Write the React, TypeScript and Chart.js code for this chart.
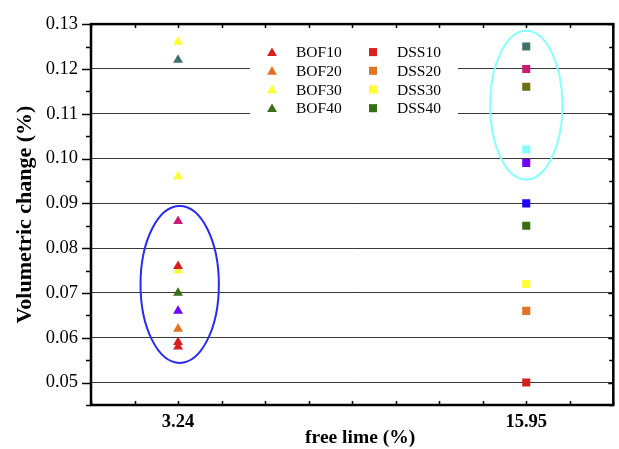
import React, { useEffect, useRef } from "react";
import { Chart, registerables } from "chart.js";

Chart.register(...registerables);

// ---- data ----
const freeLime = [3.24, 15.95];
const xTickLabels = ["3.24", "15.95"];
const xTitle = "free lime (%)";
const yTitle = "Volumetric change (%)";

// BOF series (free lime 3.24 %)
const bof10 = [0.076, 0.059, 0.058];
const bof20 = [0.062];
const bof30 = [0.126, 0.096, 0.075];
const bof40 = [0.07];
const bofTeal = [0.122];
const bofMagenta = [0.086];
const bofViolet = [0.066];

// DSS series (free lime 15.95 %)
const dss10 = [0.05];
const dss20 = [0.066];
const dss30 = [0.072];
const dss40 = [0.085];
const dssTeal = [0.125];
const dssMagenta = [0.12];
const dssOlive = [0.116];
const dssCyan = [0.102];
const dssViolet = [0.099];
const dssBlue = [0.09];

const yMajorTicks = [0.05, 0.06, 0.07, 0.08, 0.09, 0.1, 0.11, 0.12, 0.13];

// ---- styling ----
const SERIF = "'Liberation Serif', 'Times New Roman', serif";
const COL = {
  red: "#d61f1f",
  orange: "#e07424",
  yellow: "#ffff33",
  green: "#3a6e14",
  teal: "#3f6f6f",
  magenta: "#cc1a77",
  violet: "#7000ff",
  cyan: "#80ffff",
  blue: "#1e00ff",
  olive: "#6e6e14",
};

const X_STEP = (freeLime[1] - freeLime[0]) / 8;
const X_MIN = freeLime[0] - 2 * X_STEP;
const X_MAX = freeLime[1] + 2 * X_STEP;
const Y_MIN = 0.045;
const Y_MAX = 0.13;

const groupEllipses = [
  { x: freeLime[0] + 0.06, yCenter: 0.0719, xRadius: 1.43, yRadius: 0.0175, color: "#2a2af0" },
  { x: freeLime[1], yCenter: 0.1119, xRadius: 1.32, yRadius: 0.0166, color: "#88ffff" },
];

function mk(label: string, xv: number, vals: number[], color: string, style: string, inLegend: boolean) {
  return {
    label,
    data: vals.map((v) => ({ x: xv, y: v })),
    pointStyle: style,
    backgroundColor: color,
    borderColor: color,
    borderWidth: 0,
    pointRadius: 5.7,
    pointHoverRadius: 5.7,
    showLine: false,
    inLegend,
  } as any;
}

const ellipsePlugin = {
  id: "groupEllipses",
  afterDatasetsDraw(chart: any) {
    const { ctx, scales } = chart;
    const xs = scales.x;
    const ys = scales.y;
    ctx.save();
    for (const e of groupEllipses) {
      const cx = xs.getPixelForValue(e.x);
      const cy = ys.getPixelForValue(e.yCenter);
      const rx = Math.abs(xs.getPixelForValue(e.x + e.xRadius) - cx);
      const ry = Math.abs(ys.getPixelForValue(e.yCenter + e.yRadius) - cy);
      ctx.beginPath();
      ctx.ellipse(cx, cy, rx, ry, 0, 0, Math.PI * 2);
      ctx.strokeStyle = e.color;
      ctx.lineWidth = 2;
      ctx.stroke();
    }
    ctx.restore();
  },
};

function drawMarker(ctx: CanvasRenderingContext2D, style: string, x: number, y: number, r: number, color: string) {
  ctx.fillStyle = color;
  ctx.beginPath();
  if (style === "triangle") {
    let rad = 0;
    ctx.moveTo(x + Math.sin(rad) * r, y - Math.cos(rad) * r);
    rad += (2 * Math.PI) / 3;
    ctx.lineTo(x + Math.sin(rad) * r, y - Math.cos(rad) * r);
    rad += (2 * Math.PI) / 3;
    ctx.lineTo(x + Math.sin(rad) * r, y - Math.cos(rad) * r);
    ctx.closePath();
  } else {
    const s = Math.SQRT1_2 * r;
    ctx.rect(x - s, y - s, 2 * s, 2 * s);
  }
  ctx.fill();
}

const legendPlugin = {
  id: "insideLegend",
  afterDatasetsDraw(chart: any) {
    const { ctx, chartArea } = chart;
    const x0 = chartArea.left + 159;
    const y0 = chartArea.top + 16;
    ctx.save();
    ctx.fillStyle = "#ffffff";
    ctx.fillRect(x0, y0, 208, 80);
    const items = chart.data.datasets.filter((d: any) => d.inLegend);
    ctx.font = `15.5px ${SERIF}`;
    ctx.textBaseline = "middle";
    ctx.textAlign = "left";
    items.forEach((d: any, i: number) => {
      const col = Math.floor(i / 4);
      const row = i % 4;
      const my = y0 + 12 + row * 18.7;
      const mx = x0 + 22 + col * 101;
      drawMarker(ctx, d.pointStyle, mx, my + (d.pointStyle === "triangle" ? 1 : 0), 5.7, d.backgroundColor);
      ctx.fillStyle = "#000";
      ctx.fillText(d.label, x0 + 46 + col * 101, my + 1);
    });
    ctx.restore();
  },
};

const framePlugin = {
  id: "frameTicks",
  afterDraw(chart: any) {
    const { ctx, chartArea: a, scales } = chart;
    const ys = scales.y;
    const xs = scales.x;
    ctx.save();
    ctx.strokeStyle = "#000";
    ctx.lineWidth = 1.5;
    ctx.beginPath();
    for (let k = 0; k <= Math.round((Y_MAX - Y_MIN) / 0.005); k++) {
      const v = Y_MIN + k * 0.005;
      const py = Math.round(ys.getPixelForValue(v)) + 0.5;
      const major = Math.abs(v * 100 - Math.round(v * 100)) < 1e-6;
      const outL = major ? 9 : 5;
      const inR = major ? 5 : 4;
      ctx.moveTo(a.left - outL, py);
      ctx.lineTo(a.left, py);
      ctx.moveTo(a.right, py);
      ctx.lineTo(a.right - inR, py);
    }
    for (let k = 0; k <= 12; k++) {
      const px = Math.round(xs.getPixelForValue(X_MIN + k * X_STEP)) + 0.5;
      ctx.moveTo(px, a.top);
      ctx.lineTo(px, a.top + 4);
      ctx.moveTo(px, a.bottom);
      ctx.lineTo(px, a.bottom - 4);
    }
    ctx.stroke();
    ctx.lineWidth = 2.5;
    ctx.strokeRect(a.left, a.top, a.right - a.left, a.bottom - a.top);

    // x-axis title (slightly right of centre, as in the original)
    ctx.fillStyle = "#000";
    ctx.font = `bold 19.5px ${SERIF}`;
    ctx.textAlign = "center";
    ctx.textBaseline = "middle";
    ctx.fillText(xTitle, (a.left + a.right) / 2 + 8, a.bottom + 33);
    ctx.restore();
  },
};

export default function App() {
  const ref = useRef<HTMLCanvasElement | null>(null);

  useEffect(() => {
    if (!ref.current) return;
    const datasets = [
      mk("BOF10", freeLime[0], bof10, COL.red, "triangle", true),
      mk("BOF20", freeLime[0], bof20, COL.orange, "triangle", true),
      mk("BOF30", freeLime[0], bof30, COL.yellow, "triangle", true),
      mk("BOF40", freeLime[0], bof40, COL.green, "triangle", true),
      mk("DSS10", freeLime[1], dss10, COL.red, "rect", true),
      mk("DSS20", freeLime[1], dss20, COL.orange, "rect", true),
      mk("DSS30", freeLime[1], dss30, COL.yellow, "rect", true),
      mk("DSS40", freeLime[1], dss40, COL.green, "rect", true),
      mk("BOF-a", freeLime[0], bofTeal, COL.teal, "triangle", false),
      mk("BOF-b", freeLime[0], bofMagenta, COL.magenta, "triangle", false),
      mk("BOF-c", freeLime[0], bofViolet, COL.violet, "triangle", false),
      mk("DSS-a", freeLime[1], dssTeal, COL.teal, "rect", false),
      mk("DSS-b", freeLime[1], dssMagenta, COL.magenta, "rect", false),
      mk("DSS-c", freeLime[1], dssOlive, COL.olive, "rect", false),
      mk("DSS-d", freeLime[1], dssCyan, COL.cyan, "rect", false),
      mk("DSS-e", freeLime[1], dssViolet, COL.violet, "rect", false),
      mk("DSS-f", freeLime[1], dssBlue, COL.blue, "rect", false),
    ];

    const chart = new Chart(ref.current, {
      type: "scatter",
      data: { datasets },
      options: {
        animation: false,
        responsive: false,
        events: [],
        layout: { padding: { top: 18, right: 2, left: 0, bottom: 0 } },
        plugins: { legend: { display: false }, tooltip: { enabled: false } },
        scales: {
          x: {
            type: "linear",
            min: X_MIN,
            max: X_MAX,
            afterBuildTicks: (s: any) => {
              const t = [];
              for (let k = 0; k <= 12; k++) t.push({ value: X_MIN + k * X_STEP });
              s.ticks = t;
            },
            afterFit: (s: any) => {
              s.height = 44;
              s.paddingRight = 0;
              s.paddingLeft = 0;
            },
            grid: { display: false, drawTicks: false },
            border: { display: false },
            ticks: {
              autoSkip: false,
              maxRotation: 0,
              padding: 6,
              color: "#000",
              font: { family: SERIF, size: 18.5, weight: "bold" },
              callback: (v: any) => {
                const i = freeLime.findIndex((f) => Math.abs(f - v) < 1e-6);
                return i >= 0 ? xTickLabels[i] : "";
              },
            },
            title: { display: false },
          },
          y: {
            type: "linear",
            min: Y_MIN,
            max: Y_MAX,
            afterBuildTicks: (s: any) => {
              s.ticks = yMajorTicks.map((v) => ({ value: v }));
            },
            afterFit: (s: any) => {
              s.width = 91;
            },
            grid: {
              drawTicks: false,
              color: "#3a3a3a",
              lineWidth: 1,
            },
            border: { display: false },
            ticks: {
              padding: 13,
              color: "#000",
              font: { family: SERIF, size: 18.5 },
              callback: (v: any) => Number(v).toFixed(2),
            },
            title: {
              display: true,
              text: yTitle,
              color: "#000",
              font: { family: SERIF, size: 22, weight: "bold" },
              padding: { top: 12, bottom: 0 },
            },
          },
        },
      } as any,
      plugins: [ellipsePlugin, legendPlugin, framePlugin],
    });
    return () => chart.destroy();
  }, []);

  return (
    <div style={{ position: "fixed", left: 0, top: 0, width: 619, height: 449, background: "#fff" }}>
      <canvas ref={ref} width={619} height={449} style={{ display: "block" }} />
    </div>
  );
}
